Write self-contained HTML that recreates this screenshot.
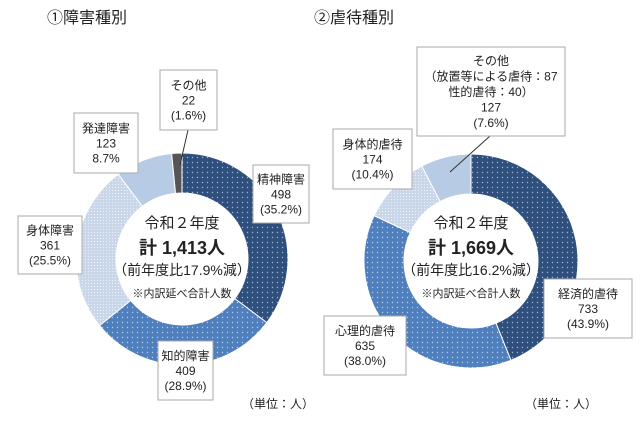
<!DOCTYPE html>
<html><head><meta charset="utf-8">
<style>
body{margin:0;background:#fff;width:640px;height:417px;overflow:hidden;font-family:"Liberation Sans","Noto Sans CJK JP",sans-serif}
svg text{font-family:"Liberation Sans","Noto Sans CJK JP",sans-serif;fill:#222}
</style></head><body>
<svg id="chart" width="640" height="417" viewBox="0 0 640 417" xmlns="http://www.w3.org/2000/svg">
<defs>
<pattern id="pDark" width="5" height="5" patternUnits="userSpaceOnUse"><rect width="5" height="5" fill="#2f4f7d"/><circle cx="2.5" cy="2.5" r="0.7" fill="#9fb3d4"/></pattern>
<pattern id="pMed" width="5" height="5" patternUnits="userSpaceOnUse"><rect width="5" height="5" fill="#4f7fbd"/><circle cx="2.5" cy="2.5" r="0.7" fill="#b9cde8"/></pattern>
<pattern id="pLight" width="3" height="3" patternUnits="userSpaceOnUse"><rect width="3" height="3" fill="#c9d6ea"/><circle cx="1.5" cy="1.5" r="0.6" fill="#eef2f8"/></pattern>
<pattern id="pPale" width="4" height="4" patternUnits="userSpaceOnUse"><rect width="4" height="4" fill="#b8cbe4"/></pattern>
<pattern id="pGray" width="4" height="4" patternUnits="userSpaceOnUse"><rect width="4" height="4" fill="#555"/></pattern>
</defs>
<text x="47" y="23" font-size="16">①障害種別</text>
<text x="314" y="23" font-size="16">②虐待種別</text>
<g id="left"></g><g id="right"></g>
</svg>
<script>
const leftCats=["精神障害","知的障害","身体障害","発達障害","その他"];
const leftVals=[498,409,361,123,22];
const rightCats=["経済的虐待","心理的虐待","身体的虐待","その他"];
const rightVals=[733,635,174,127];
const leftFills=["url(#pDark)","url(#pMed)","url(#pLight)","url(#pPale)","url(#pGray)"];
const rightFills=["url(#pDark)","url(#pMed)","url(#pLight)","url(#pPale)"];
const NS="http://www.w3.org/2000/svg";
function mk(tag,attrs,parent){const e=document.createElementNS(NS,tag);for(const k in attrs)e.setAttribute(k,attrs[k]);parent.appendChild(e);return e;}
function donut(g,cx,cy,R,r,vals,fills,name){
  const tot=vals.reduce((a,b)=>a+b,0);let a0=0;
  vals.forEach((v,i)=>{
    const a1=a0+v/tot*2*Math.PI;
    const p=(a,rr)=>[cx+rr*Math.sin(a),cy-rr*Math.cos(a)];
    const [x0,y0]=p(a0,R),[x1,y1]=p(a1,R),[x2,y2]=p(a1,r),[x3,y3]=p(a0,r);
    const lg=(a1-a0)>Math.PI?1:0;
    const el=mk("path",{d:`M${x0},${y0}A${R},${R} 0 ${lg} 1 ${x1},${y1}L${x2},${y2}A${r},${r} 0 ${lg} 0 ${x3},${y3}Z`,fill:fills[i],stroke:"#fff","stroke-width":"1"},g);
    
    
    a0=a1;
  });
}
function box(g,x,y,w,h,lines,name,lh){
  const b=mk("g",{},g);
  
  
  mk("rect",{x:x,y:y,width:w,height:h,fill:"#fff",stroke:"#aaa","stroke-width":"1"},b);
  lh=lh||15;const start=y+h/2-(lines.length-1)*lh/2+4.5;
  lines.forEach((t,i)=>{const tx=mk("text",{x:x+w/2,y:start+i*lh,"font-size":12,"text-anchor":"middle"},b);tx.textContent=t;});
}
function center(g,cx,total,pct,name){
  const c=mk("g",{},g);
  
  
  const t=[["令和２年度",228,15,"normal"],["計 "+total+"人",254,18,"bold"],["（前年度比"+pct+"%減）",275,14,"normal"],["※内訳延べ合計人数",297,11,"normal"]];
  t.forEach(([s,y,f,w])=>{const e=mk("text",{x:cx,y:y,"font-size":f,"font-weight":w,"text-anchor":"middle"},c);e.textContent=s;});
}
function unit(g,x,name){const e=mk("text",{x:x,y:408,"font-size":12},g);e.textContent="（単位：人）";}
const L=document.getElementById("left"),Rg=document.getElementById("right");
const lt=leftVals.reduce((a,b)=>a+b,0), rt=rightVals.reduce((a,b)=>a+b,0);
const pc=(v,t)=>(v/t*100).toFixed(1);
donut(L,182,259,106,66,leftVals,leftFills,"left");
mk("line",{x1:188,y1:130,x2:180,y2:165,stroke:"#333","stroke-width":"1"},L);
box(L,160,70,57,60,[leftCats[4],String(leftVals[4]),"("+pc(leftVals[4],lt)+"%)"],"label-other-disability");
box(L,74,113,64,60,[leftCats[3],String(leftVals[3]),pc(leftVals[3],lt)+"%"],"label-developmental");
box(L,253,165,56,58,[leftCats[0],String(leftVals[0]),"("+pc(leftVals[0],lt)+"%)"],"label-mental");
box(L,18,216,64,58,[leftCats[2],String(leftVals[2]),"("+pc(leftVals[2],lt)+"%)"],"label-physical");
box(L,158,341,55,59,[leftCats[1],String(leftVals[1]),"("+pc(leftVals[1],lt)+"%)"],"label-intellectual");
center(L,182,lt.toLocaleString("en-US"),"17.9","left-center-text");
unit(L,242,"left-unit");
donut(Rg,471,261,107,67,rightVals,rightFills,"right");
mk("line",{x1:490,y1:136,x2:450,y2:172,stroke:"#333","stroke-width":"1"},Rg);
box(Rg,417,47,148,89,["その他","（放置等による虐待：87","性的虐待：40）",String(rightVals[3]),"("+pc(rightVals[3],rt)+"%)"],"label-other-abuse",15.5);
box(Rg,333,129,79,60,[rightCats[2],String(rightVals[2]),"("+pc(rightVals[2],rt)+"%)"],"label-physical-abuse");
box(Rg,544,279,88,59,[rightCats[0],String(rightVals[0]),"("+pc(rightVals[0],rt)+"%)"],"label-economic");
box(Rg,324,316,82,59,[rightCats[1],String(rightVals[1]),"("+pc(rightVals[1],rt)+"%)"],"label-psychological");
center(Rg,471,rt.toLocaleString("en-US"),"16.2","right-center-text");
unit(Rg,525,"right-unit");
</script>
</body></html>
